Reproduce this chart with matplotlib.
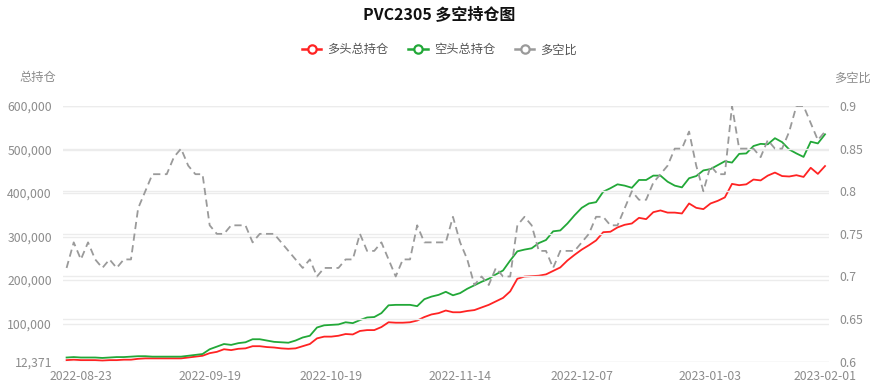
"""PVC2305 long/short open interest chart (多空持仓图)."""

import matplotlib
matplotlib.use("Agg")
import matplotlib.pyplot as plt
from matplotlib.lines import Line2D
import pandas as pd

plt.rcParams["font.family"] = ["Noto Sans CJK SC", "DejaVu Sans"]

# trading calendar, 2022-08-19 .. 2023-02-01 (exchange holidays removed)
holidays = ["2022-09-12", "2022-10-03", "2022-10-04", "2022-10-05", "2022-10-06",
            "2022-10-07", "2023-01-02", "2023-01-23", "2023-01-24", "2023-01-25",
            "2023-01-26", "2023-01-27"]
dates = [d.strftime("%Y-%m-%d") for d in
         pd.bdate_range("2022-08-19", "2023-02-01", freq="C", holidays=holidays)]
tick_dates = ["2022-08-23", "2022-09-19", "2022-10-19", "2022-11-14",
              "2022-12-07", "2023-01-03", "2023-02-01"]

# 多头总持仓 (thousand lots)
long_k = [16, 17, 16, 16, 16, 15, 16, 16, 17, 17, 19, 20, 20, 20, 20, 20,
          20, 22, 24, 26, 32, 35, 41, 39, 42, 43, 48, 48, 46, 45, 43, 42,
          43, 48, 53, 66, 70, 70, 72, 76, 75, 83, 85, 85, 92, 103, 102, 102,
          103, 107, 115, 121, 124, 130, 126, 126, 129, 131, 137, 143, 151, 159, 174, 203,
          208, 209, 210, 213, 221, 229, 245, 258, 270, 280, 291, 310, 311, 321, 327, 330,
          343, 340, 356, 360, 355, 355, 353, 376, 366, 363, 376, 382, 390, 421, 418, 420,
          431, 429, 440, 447, 439, 438, 441, 437, 458, 444, 462]
# 空头总持仓 (thousand lots)
short_k = [22, 23, 22, 22, 22, 21, 22, 23, 23, 24, 25, 25, 24, 24, 24, 24,
           24, 26, 28, 30, 41, 47, 53, 51, 55, 57, 64, 64, 61, 58, 57, 56,
           61, 68, 72, 91, 96, 97, 98, 103, 101, 108, 114, 115, 124, 142, 143, 143,
           143, 140, 156, 162, 166, 173, 165, 170, 180, 188, 196, 203, 213, 222, 245, 266,
           270, 273, 285, 292, 312, 314, 330, 349, 366, 376, 379, 403, 411, 420, 417, 412,
           430, 430, 440, 440, 426, 417, 413, 434, 439, 452, 455, 464, 473, 470, 490, 491,
           508, 513, 512, 526, 517, 500, 491, 483, 518, 514, 535]
# 多空比
ratio = [0.71, 0.74, 0.72, 0.74, 0.72, 0.71, 0.72, 0.71, 0.72, 0.72, 0.78, 0.80, 0.82, 0.82, 0.82, 0.84,
         0.85, 0.83, 0.82, 0.82, 0.76, 0.75, 0.75, 0.76, 0.76, 0.76, 0.74, 0.75, 0.75, 0.75, 0.74, 0.73,
         0.72, 0.71, 0.72, 0.70, 0.71, 0.71, 0.71, 0.72, 0.72, 0.75, 0.73, 0.73, 0.74, 0.72, 0.70, 0.72,
         0.72, 0.76, 0.74, 0.74, 0.74, 0.74, 0.77, 0.74, 0.72, 0.69, 0.70, 0.69, 0.71, 0.70, 0.70, 0.76,
         0.77, 0.76, 0.73, 0.73, 0.71, 0.73, 0.73, 0.73, 0.74, 0.75, 0.77, 0.77, 0.76, 0.76, 0.78, 0.80,
         0.79, 0.79, 0.81, 0.82, 0.83, 0.85, 0.85, 0.87, 0.83, 0.80, 0.83, 0.82, 0.82, 0.90, 0.85, 0.85,
         0.85, 0.84, 0.86, 0.85, 0.85, 0.87, 0.90, 0.90, 0.88, 0.86, 0.87]

left_ticks = [12371, 100000, 200000, 300000, 400000, 500000, 600000]
right_ticks = [0.6, 0.65, 0.7, 0.75, 0.8, 0.85, 0.9]

RED = "#ff2323"
GREEN = "#22a838"
GRAY = "#9a9a9a"
LABEL = "#8c8c8c"
GRID = "#ececec"

W, H = 879, 387
fig = plt.figure(figsize=(W / 100, H / 100), dpi=100)
ax = fig.add_axes([63 / W, (H - 361.7) / H, (828.6 - 63) / W, (361.7 - 106) / H])
ax2 = ax.twinx()

x = list(range(len(dates)))
ax.plot(x, [v * 1000 for v in long_k], color=RED, lw=1.3, zorder=3)
ax.plot(x, [v * 1000 for v in short_k], color=GREEN, lw=1.3, zorder=3)
ax2.plot(x, ratio, color=GRAY, lw=1.3, ls=(0, (4, 2.5)), zorder=3)

ax.set_xlim(-0.5, len(dates) - 0.5)
ax.set_ylim(left_ticks[0], left_ticks[-1])
ax2.set_ylim(right_ticks[0], right_ticks[-1])

ax.set_yticks(left_ticks)
ax.set_yticklabels([f"{v:,}" for v in left_ticks])
ax2.set_yticks(right_ticks)
ax2.set_yticklabels([f"{v:g}" for v in right_ticks])
ax.set_xticks([dates.index(d) for d in tick_dates])
ax.set_xticklabels(tick_dates)

for a in (ax, ax2):
    for s in a.spines.values():
        s.set_visible(False)
    a.tick_params(length=0, labelsize=8.8, labelcolor=LABEL)
    a.grid(axis="y", color=GRID, lw=1, zorder=0)
    a.set_axisbelow(True)
ax.tick_params(axis="y", pad=8)
ax2.tick_params(axis="y", pad=8)
ax.tick_params(axis="x", pad=6)

fig.text(0.5, 1 - 15 / H, "PVC2305 多空持仓图", ha="center", va="center",
         fontsize=11.5, fontweight="bold", color="#111111")
fig.text(38 / W, 1 - 78 / H, "总持仓", ha="center", va="center", fontsize=8.8, color=LABEL)
fig.text(852 / W, 1 - 78 / H, "多空比", ha="center", va="center", fontsize=8.8, color=LABEL)

handles = [Line2D([], [], color=c, lw=1.8, marker="o", markersize=6,
                  markerfacecolor="white", markeredgewidth=1.6)
           for c in (RED, GREEN, GRAY)]
fig.legend(handles, ["多头总持仓", "空头总持仓", "多空比"], loc="center",
           bbox_to_anchor=(0.5, 1 - 50 / H), ncol=3, frameon=False,
           fontsize=8.8, labelcolor="#555555", handlelength=1.6,
           handletextpad=0.5, columnspacing=1.6)

fig.savefig("out.png", dpi=100)
